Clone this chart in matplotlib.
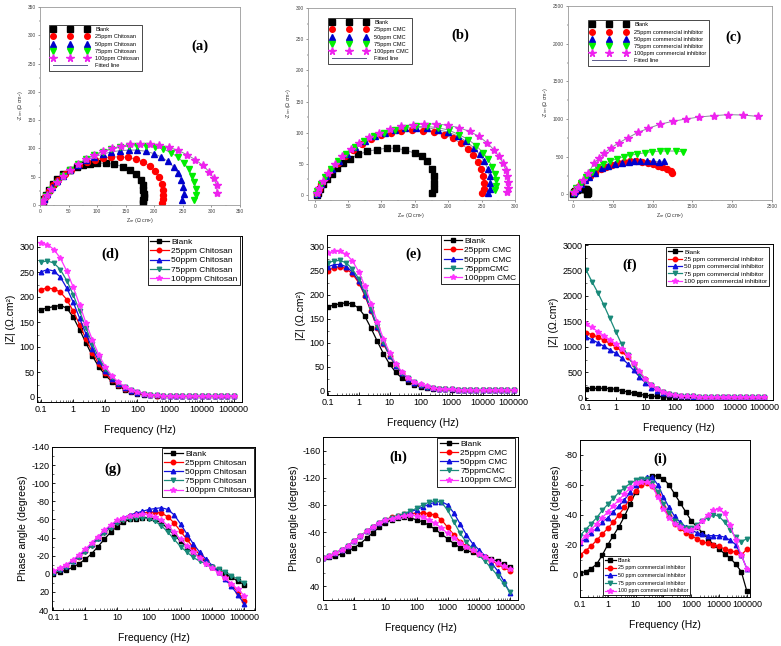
import matplotlib
matplotlib.use('Agg')
import matplotlib.pyplot as plt
from matplotlib.lines import Line2D
from matplotlib.ticker import AutoMinorLocator, MultipleLocator

plt.rcParams['font.family'] = ['Liberation Sans', 'DejaVu Sans']
plt.rcParams['axes.unicode_minus'] = False

# ---------------- data ----------------
names_chi = ['Blank', '25ppm Chitosan', '50ppm Chitosan', '75ppm Chitosan', '100ppm Chitosan']
names_cmc_n = ['Blank', '25ppm CMC', '50ppm CMC', '75ppm CMC', '100ppm CMC']
names_cmc_b = ['Blank', '25ppm CMC', '50ppm CMC', '75ppmCMC', '100ppm CMC']
names_com_n = ['Blank', '25ppm commercial inhibitor', '50ppm commercial inhibitor',
               '75ppm commercial inhibitor', '100ppm commercial inhibitor']
names_com_b = ['Blank', '25 ppm commercial inhibitor', '50 ppm commercial inhibitor',
               '75 ppm commercial inhibitor', '100 ppm commercial inhibitor']

# Nyquist (a) chitosan: Z' and -Z''
a_re = [
    [180, 181, 182, 182, 181, 180, 176, 168, 158, 145, 130, 115, 100, 88, 76, 64, 52, 40, 30, 22, 15, 10, 7, 5, 4],
    [214, 215, 216, 215, 213, 208, 201, 192, 181, 168, 154, 140, 125, 110, 96, 82, 68, 55, 43, 32, 23, 15, 9, 5, 3],
    [248, 252, 251, 247, 242, 234, 224, 212, 199, 185, 170, 155, 140, 125, 110, 95, 80, 66, 53, 41, 30, 21, 13, 7, 4],
    [270, 273, 273, 270, 266, 260, 252, 242, 230, 216, 201, 185, 170, 155, 140, 125, 110, 95, 80, 66, 52, 40, 29, 19, 11, 6, 4],
    [310, 309, 304, 296, 285, 272, 257, 241, 225, 208, 192, 175, 158, 142, 126, 110, 95, 80, 66, 53, 41, 30, 20, 12, 6, 3],
]
a_im = [
    [3, 8, 14, 20, 27, 35, 45, 55, 62, 68, 72, 74, 74, 73, 71, 68, 62, 55, 46, 37, 27, 18, 10, 4, 0],
    [3, 10, 18, 27, 38, 50, 60, 69, 76, 81, 84, 85, 85, 83, 80, 76, 70, 62, 54, 45, 35, 25, 15, 7, 2],
    [8, 20, 32, 45, 56, 67, 77, 85, 91, 95, 97, 97, 96, 94, 90, 85, 79, 71, 62, 52, 42, 31, 20, 10, 3],
    [8, 18, 29, 40, 52, 63, 74, 84, 92, 99, 103, 105, 105, 104, 102, 99, 94, 88, 81, 72, 62, 51, 39, 27, 16, 7, 2],
    [22, 35, 47, 59, 70, 80, 89, 97, 102, 106, 108, 108, 107, 104, 100, 95, 89, 81, 72, 62, 51, 40, 28, 17, 8, 2],
]

# Nyquist (b) CMC
b_re = [
    [176, 178, 179, 178, 175, 168, 160, 150, 136, 122, 108, 93, 79, 65, 53, 43, 34, 26, 19, 13, 8, 5, 4],
    [251, 253, 254, 252, 249, 244, 237, 229, 219, 207, 193, 178, 162, 146, 130, 115, 100, 85, 71, 58, 46, 35, 25, 17, 10, 6, 4],
    [260, 262, 263, 262, 259, 254, 247, 238, 227, 214, 199, 184, 168, 152, 136, 120, 105, 90, 75, 61, 48, 36, 26, 17, 10, 5, 3],
    [270, 272, 272, 270, 266, 260, 252, 242, 230, 216, 201, 185, 168, 152, 136, 120, 104, 89, 74, 60, 47, 35, 25, 16, 9, 4, 2],
    [288, 289, 289, 288, 286, 282, 276, 268, 258, 246, 232, 216, 199, 182, 164, 147, 130, 113, 97, 82, 67, 54, 41, 30, 20, 12, 6, 3],
]
b_im = [
    [3, 10, 20, 30, 42, 54, 62, 67, 72, 75, 75, 73, 70, 65, 58, 51, 43, 34, 25, 17, 10, 4, 0],
    [3, 10, 20, 30, 42, 53, 64, 74, 83, 91, 97, 101, 103, 104, 103, 100, 96, 90, 82, 73, 63, 52, 40, 29, 18, 9, 2],
    [3, 10, 20, 30, 42, 54, 65, 76, 86, 95, 101, 105, 108, 108, 107, 104, 100, 94, 86, 77, 66, 54, 42, 30, 18, 8, 2],
    [8, 15, 24, 34, 45, 57, 68, 79, 89, 97, 104, 108, 110, 110, 108, 105, 100, 94, 86, 77, 66, 54, 42, 29, 17, 7, 1],
    [5, 12, 21, 30, 40, 51, 62, 73, 84, 94, 102, 108, 112, 114, 114, 113, 110, 106, 100, 93, 84, 74, 62, 50, 36, 23, 11, 3],
]

# Nyquist (c) commercial inhibitor
c_re = [
    [180, 182, 182, 178, 165, 145, 120, 95, 70, 48, 30, 15, 6],
    [8, 30, 60, 100, 150, 210, 280, 350, 420, 490, 570, 645, 720, 795, 870, 940, 1005, 1065, 1120, 1175, 1225, 1240],
    [8, 30, 60, 100, 150, 205, 275, 360, 445, 530, 614, 699, 771, 847, 932, 1008, 1081, 1144],
    [10, 42, 106, 169, 233, 297, 381, 466, 551, 636, 720, 805, 903, 996, 1089, 1186, 1292, 1377],
    [15, 64, 127, 191, 263, 330, 394, 479, 580, 691, 818, 945, 1089, 1250, 1419, 1589, 1767, 1949, 2131, 2318],
]
c_im = [
    [3, 20, 40, 55, 65, 72, 75, 74, 68, 57, 43, 26, 10],
    [12, 50, 95, 145, 195, 245, 290, 330, 365, 395, 418, 434, 442, 442, 434, 420, 400, 378, 358, 332, 305, 290],
    [12, 48, 90, 138, 185, 235, 290, 345, 376, 403, 420, 434, 442, 442, 442, 442, 434, 442],
    [20, 80, 155, 235, 301, 358, 403, 442, 473, 500, 518, 535, 553, 566, 575, 575, 575, 566],
    [25, 102, 190, 279, 411, 487, 553, 619, 686, 752, 823, 876, 929, 969, 1000, 1027, 1044, 1058, 1053, 1035],
]

# Bode frequencies (Hz)
freq = [0.1, 0.158, 0.251, 0.398, 0.631, 1, 1.58, 2.51, 3.98, 6.31,
        10, 15.8, 25.1, 39.8, 63.1, 100, 158, 251, 398, 631,
        1000, 1580, 2510, 3980, 6310, 10000, 15800, 25100, 39800, 63100, 100000]

# |Z| (d) chitosan
d_z = [
    [175, 178, 181, 183, 178, 160, 135, 108, 82, 60, 44, 31, 22, 15, 10, 7, 5, 4, 3, 2.5, 2, 2, 2, 2, 2, 2, 2, 2, 2, 2, 2],
    [215, 218, 216, 210, 195, 172, 145, 116, 89, 66, 48, 34, 24, 17, 12, 8, 6, 4, 3, 2.5, 2, 2, 2, 2, 2, 2, 2, 2, 2, 2, 2],
    [250, 255, 252, 240, 218, 190, 158, 126, 97, 72, 52, 37, 26, 18, 13, 9, 6, 4.5, 3.5, 2.5, 2, 2, 2, 2, 2, 2, 2, 2, 2, 2, 2],
    [270, 272, 268, 255, 233, 205, 172, 138, 106, 78, 57, 40, 28, 20, 14, 10, 7, 5, 3.5, 2.5, 2, 2, 2, 2, 2, 2, 2, 2, 2, 2, 2],
    [308, 305, 295, 278, 252, 220, 185, 148, 114, 84, 61, 43, 30, 21, 15, 10, 7, 5, 3.5, 2.5, 2, 2, 2, 2, 2, 2, 2, 2, 2, 2, 2],
]
# |Z| (e) CMC
e_z = [
    [175, 178, 181, 183, 180, 172, 155, 130, 103, 77, 55, 38, 26, 18, 12, 8, 6, 4, 3, 2.5, 2, 2, 2, 2, 2, 2, 2, 2, 2, 2, 2],
    [250, 256, 258, 254, 243, 225, 198, 165, 130, 98, 72, 51, 36, 25, 17, 12, 8, 6, 4, 3, 2.5, 2, 2, 2, 2, 2, 2, 2, 2, 2, 2],
    [258, 262, 263, 258, 247, 228, 200, 167, 132, 100, 73, 52, 37, 25, 17, 12, 8, 6, 4, 3, 2.5, 2, 2, 2, 2, 2, 2, 2, 2, 2, 2],
    [266, 270, 271, 266, 253, 233, 205, 170, 134, 102, 74, 53, 37, 26, 18, 12, 8, 6, 4, 3, 2.5, 2, 2, 2, 2, 2, 2, 2, 2, 2, 2],
    [287, 290, 290, 284, 270, 248, 218, 181, 143, 108, 79, 56, 39, 27, 18, 13, 9, 6, 4, 3, 2.5, 2, 2, 2, 2, 2, 2, 2, 2, 2, 2],
]
# |Z| (f) commercial inhibitor
f_z = [
    [180, 182, 185, 185, 180, 165, 140, 113, 88, 66, 48, 34, 24, 17, 12, 8, 6, 5, 4, 4, 4, 4, 4, 4, 4, 4, 4, 4, 4, 4, 4],
    [1280, 1240, 1190, 1130, 1070, 1000, 910, 800, 660, 500, 360, 250, 170, 115, 80, 55, 40, 30, 24, 20, 18, 17, 16, 16, 15, 15, 15, 15, 15, 15, 15],
    [1200, 1140, 1080, 1010, 940, 870, 780, 670, 540, 410, 290, 200, 140, 95, 66, 46, 34, 26, 21, 18, 16, 15, 15, 14, 14, 14, 14, 14, 14, 14, 14],
    [2510, 2280, 2060, 1820, 1560, 1300, 1050, 830, 640, 480, 350, 250, 175, 120, 82, 56, 40, 30, 24, 20, 18, 17, 16, 16, 15, 15, 15, 15, 15, 15, 15],
    [1450, 1380, 1300, 1220, 1140, 1060, 960, 830, 680, 520, 370, 255, 175, 118, 82, 57, 41, 31, 25, 21, 19, 18, 17, 16, 16, 16, 16, 16, 16, 16, 16],
]
# phase (g) chitosan
g_ph = [
    [0, -2, -4, -7, -11, -16, -22, -30, -38, -46, -52, -57, -60, -61, -62, -62, -60, -56, -50, -43, -36, -29, -23, -18, -13, -8, -4, 0, 4, 8, 12],
    [-2, -5, -9, -14, -19, -25, -32, -39, -46, -52, -57, -61, -64, -66, -67, -68, -68, -67, -63, -56, -47, -38, -29, -21, -14, -8, -2, 5, 12, 20, 30],
    [-2, -5, -9, -14, -20, -26, -33, -40, -47, -53, -58, -62, -65, -67, -69, -71, -72, -73, -71, -65, -55, -44, -33, -24, -16, -9, -2, 6, 14, 23, 33],
    [-1, -4, -8, -13, -18, -24, -31, -38, -45, -51, -56, -59, -61, -62, -62, -61, -58, -53, -46, -38, -30, -24, -18, -14, -11, -8, -5, -2, 2, 6, 10],
    [-3, -6, -10, -15, -21, -27, -34, -41, -48, -54, -59, -62, -64, -65, -66, -65, -63, -59, -53, -46, -38, -31, -24, -17, -11, -6, -1, 5, 11, 17, 24],
]
# phase (h) CMC
h_ph = [
    [-2, -3, -5, -8, -12, -17, -23, -31, -39, -47, -54, -58, -61, -62, -61, -58, -55, -50, -44, -37, -30, -23, -17, -13, -10, -7, -4, -1, 3, 7, 11],
    [-2, -5, -9, -14, -20, -27, -34, -41, -48, -54, -58, -62, -64, -66, -67, -68, -68, -67, -65, -58, -47, -36, -26, -19, -13, -8, -3, 2, 7, 12, 17],
    [-2, -5, -9, -14, -20, -27, -34, -41, -48, -54, -58, -61, -64, -67, -70, -73, -77, -81, -84, -85, -80, -68, -52, -36, -23, -14, -5, 5, 17, 32, 50],
    [-2, -5, -9, -14, -20, -27, -34, -41, -48, -54, -58, -61, -64, -67, -71, -75, -80, -84, -86, -84, -72, -55, -38, -25, -15, -6, 3, 13, 24, 36, 48],
    [-2, -5, -9, -14, -20, -27, -34, -41, -48, -54, -58, -60, -62, -64, -65, -64, -62, -58, -53, -46, -38, -31, -24, -18, -13, -8, -3, 1, 6, 10, 15],
]
# phase (i) commercial inhibitor
i_ph = [
    [-1, -2, -4, -7, -13, -20, -26, -32, -39, -47, -55, -61, -64, -66, -66, -64, -60, -54, -48, -42, -36, -32, -28, -24, -20, -17, -14, -11, -7, -2, 11],
    [-13, -16, -19, -23, -27, -31, -35, -40, -45, -51, -56, -60, -61, -59, -53, -45, -39, -34, -31, -28, -26, -24, -22, -21, -20, -19, -17, -16, -15, -13, -17],
    [-21, -24, -28, -31, -35, -38, -42, -46, -50, -55, -60, -63, -65, -65, -60, -52, -45, -39, -35, -32, -30, -28, -27, -26, -26, -26, -25, -23, -20, -13, -4],
    [-26, -30, -34, -38, -43, -47, -51, -55, -58, -61, -63, -64, -64, -61, -55, -47, -41, -36, -33, -31, -31, -33, -36, -38, -40, -39, -35, -30, -25, -22, -24],
    [-22, -26, -30, -34, -38, -42, -46, -50, -54, -58, -61, -62, -62, -59, -52, -44, -38, -34, -32, -30, -30, -32, -36, -40, -43, -44, -41, -33, -23, -13, -4],
]

freq_ticks = [0.1, 1, 10, 100, 1000, 10000, 100000]
freq_labels = ['0.1', '1', '10', '100', '1000', '10000', '100000']

markers = ['s', 'o', '^', 'v', '*']
nyq_colors = ['black', '#ff0000', '#0000cc', '#00ee00', '#ee22ee']
bode_colors = ['black', '#ff0000', '#1010dd', '#1a8a7a', '#ff33ff']

W, H = 781, 646
fig = plt.figure(figsize=(W / 100, H / 100), dpi=100)


def box(l, t, r, b):
    return [l / W, 1 - b / H, (r - l) / W, (b - t) / H]


def tag(ax, txt, x, y):
    ax.text(x, y, txt, transform=ax.transAxes, ha='center', va='center',
            family='Liberation Serif', weight='bold', fontsize=10.5)


def nyquist(rect, res, ims, names, xlim, ylim, step, anchor, label, lxy):
    ax = fig.add_axes(box(*rect))
    for re, im, c, m in zip(res, ims, nyq_colors, markers):
        ax.plot(re, im, color='#8a8a9a', lw=0.7, zorder=1)
        ax.plot(re, im, ls='none', marker=m, color=c, mec=c,
                ms=6 if m == '*' else 4.3, zorder=2)
    ax.set_xlim(*xlim)
    ax.set_ylim(*ylim)
    ax.xaxis.set_major_locator(MultipleLocator(step))
    ax.yaxis.set_major_locator(MultipleLocator(step))
    ax.xaxis.set_minor_locator(AutoMinorLocator(2))
    ax.yaxis.set_minor_locator(AutoMinorLocator(2))
    ax.tick_params(labelsize=3.5, length=1.5, width=0.4, pad=1.5, colors='#444444')
    ax.tick_params(which='minor', length=1, width=0.3)
    for s in ax.spines.values():
        s.set_color('#999999')
        s.set_linewidth(0.6)
    ax.set_xlabel('Z$_{re}$ (Ω cm²)', fontsize=3.8, labelpad=1, color='#333333')
    ax.set_ylabel('-Z$_{im}$ (Ω cm²)', fontsize=3.8, labelpad=2, color='#333333')
    handles = [Line2D([], [], ls='none', marker=m, color=c, mec=c, ms=5.5 if m == '*' else 4)
               for c, m in zip(nyq_colors, markers)]
    handles.append(Line2D([], [], color='#5a5a8a', lw=0.7))
    ax.legend(handles, names + ['Fitted line'], loc='upper left', bbox_to_anchor=anchor,
              numpoints=3, handlelength=6.5, fontsize=4.1, fancybox=False,
              edgecolor='black', framealpha=1, borderpad=0.45, labelspacing=0.38,
              handletextpad=1.2).get_frame().set_linewidth(0.5)
    tag(ax, label, *lxy)
    return ax


def bode(rect, ys, names, xlim, ylim, yticks, ylabel, leg, label, lxy):
    ax = fig.add_axes(box(*rect))
    for y, c, m in zip(ys, bode_colors, markers):
        ax.plot(freq, y, color=c, marker=m, mec=c, lw=0.9,
                ms=4.2 if m == '*' else 3.2)
    ax.set_xscale('log')
    ax.set_xlim(*xlim)
    ax.set_ylim(*ylim)
    ax.set_xticks(freq_ticks)
    ax.set_xticklabels(freq_labels)
    ax.set_yticks(yticks)
    ax.yaxis.set_minor_locator(AutoMinorLocator(2))
    ax.tick_params(direction='in', labelsize=6.5, length=2.5, width=0.6, pad=2)
    ax.tick_params(which='minor', direction='in', length=1.5, width=0.4)
    for s in ax.spines.values():
        s.set_linewidth(0.7)
    ax.set_xlabel('Frequency (Hz)', fontsize=7.5, labelpad=8)
    ax.set_ylabel(ylabel, fontsize=7.5, labelpad=2)
    loc, anchor, size, spacing = leg
    lg = ax.legend(names, loc=loc, bbox_to_anchor=anchor, fontsize=size, fancybox=False,
                   edgecolor='black', framealpha=1, borderpad=0.3, labelspacing=spacing,
                   handlelength=2.2, handletextpad=0.3, borderaxespad=0)
    lg.get_frame().set_linewidth(0.6)
    tag(ax, label, *lxy)
    return ax


# top row: Nyquist
nyquist((40, 7, 240, 205), a_re, a_im, names_chi, (0, 350), (0, 350), 50,
        (0.03, 0.925), '(a)', (0.80, 0.80))
nyquist((308, 8, 515, 200), b_re, b_im, names_cmc_n, (-10, 300), (-8, 300), 50,
        (0.082, 0.964), '(b)', (0.734, 0.86))
nyquist((568, 6, 772, 200), c_re, c_im, names_com_n, (-63, 2500), (-75, 2500), 500,
        (0.083, 0.943), '(c)', (0.81, 0.84))

# middle row: |Z|
zl = '|Z| (Ω.cm²)'
bode((37, 236, 242, 402), d_z, names_chi, (0.075, 1.8e5), (-10, 322), range(0, 301, 50),
     zl, ('upper right', (0.99, 1.0), 6, 0.15), '(d)', (0.356, 0.89))
bode((327, 235, 519, 395), e_z, names_cmc_b, (0.095, 1.5e5), (-9, 324), range(0, 301, 50),
     zl, ('upper right', (1.0, 1.0), 6, 0.15), '(e)', (0.448, 0.88))
bode((585, 244, 773, 400), f_z, names_com_b, (0.092, 2.0e5), (-45, 3020), range(0, 3001, 500),
     zl, ('upper right', (0.98, 0.98), 4.6, 0.3), '(f)', (0.239, 0.865))

# bottom row: phase
pl = 'Phase angle (degrees)'
bode((52, 447, 255, 610), g_ph, names_chi, (0.09, 2.2e5), (40, -140), range(-140, 41, 20),
     pl, ('upper right', (0.995, 0.995), 6, 0.15), '(g)', (0.30, 0.865))
bode((323, 437, 518, 600), h_ph, names_cmc_b, (0.1, 1.8e5), (60, -180), range(-160, 41, 40),
     pl, ('upper right', (0.985, 0.995), 6, 0.15), '(h)', (0.385, 0.877))
bode((580, 440, 750, 597), i_ph, names_com_b, (0.1, 1.3e5), (15, -90), range(-80, 1, 20),
     pl, ('lower left', (0.135, 0.013), 3.8, 0.5), '(i)', (0.47, 0.879))

fig.savefig('out.png', dpi=100)
